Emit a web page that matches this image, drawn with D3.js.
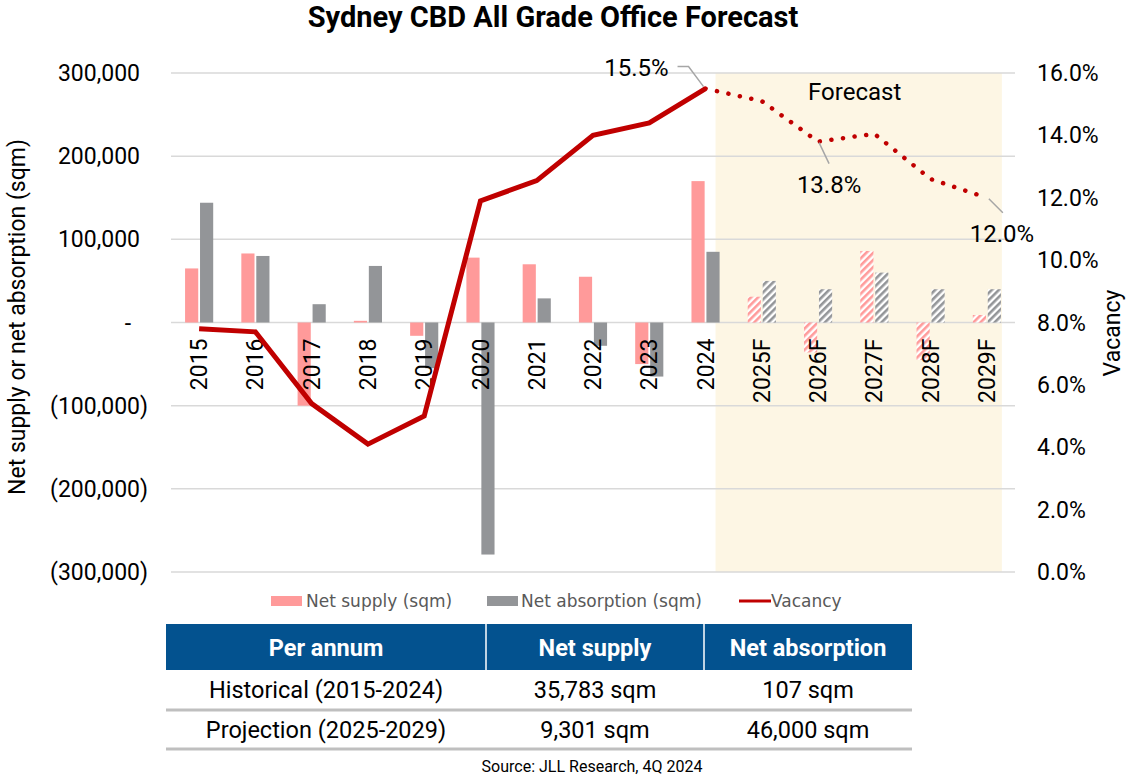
<!DOCTYPE html>
<html>
<head>
<meta charset="utf-8">
<script src="https://cdn.jsdelivr.net/npm/d3@7"></script>
<style>
  body { margin: 0; background: #fff; }
  svg { display: block; font-family: Roboto, sans-serif; }
</style>
</head>
<body>
<svg width="1127" height="779"></svg>
<script>
// data
const years = ["2015", "2016", "2017", "2018", "2019", "2020", "2021", "2022", "2023", "2024",
               "2025F", "2026F", "2027F", "2028F", "2029F"];
const netSupply = [65000, 83000, -100000, 2000, -16000, 78000, 70000, 55000, -50000, 170000,
                   31000, -36000, 86000, -45000, 9000];
const netAbsorption = [144000, 80000, 22000, 68000, -55000, -279000, 29000, -28000, -65000, 85000,
                       50000, 40000, 60000, 40000, 40000];
const vacancy = [7.8, 7.7, 5.4, 4.1, 5.0, 11.9, 12.55, 14.0, 14.4, 15.5,
                 15.1, 13.8, 14.05, 12.6, 12.0];
const leftTicks = [-300000, -200000, -100000, 0, 100000, 200000, 300000];
const rightTicks = [0, 2, 4, 6, 8, 10, 12, 14, 16];
const firstForecast = "2025F";
const tableHeader = ["Per annum", "Net supply", "Net absorption"];
const tableRows = [
  ["Historical (2015-2024)", "35,783 sqm", "107 sqm"],
  ["Projection (2025-2029)", "9,301 sqm", "46,000 sqm"]
];

const svg = d3.select("svg");
const red = "#c00000", pink = "#ff9a9a", grey = "#939598";

// scales
const x = d3.scaleBand().domain(years).range([171, 1015]).paddingInner(0.5).paddingOuter(0.25);
const xSub = d3.scaleBand().domain(["s", "a"]).range([0, x.bandwidth()]).paddingInner(0.12);
const yL = d3.scaleLinear().domain([-300000, 300000]).range([572, 73]);
const yR = d3.scaleLinear().domain([0, 16]).range([572, 73]);
const cx = d => x(d) + x.bandwidth() / 2;
const fIdx = years.indexOf(firstForecast);

// hatch patterns for forecast bars
const defs = svg.append("defs");
[["hatchPink", pink], ["hatchGrey", grey]].forEach(([id, c]) => {
  const p = defs.append("pattern").attr("id", id).attr("patternUnits", "userSpaceOnUse")
    .attr("width", 5).attr("height", 5).attr("patternTransform", "rotate(45)");
  p.append("rect").attr("width", 5).attr("height", 5).attr("fill", "#fff");
  p.append("rect").attr("width", 2.6).attr("height", 5).attr("fill", c);
});

// title
svg.append("text").attr("x", 553).attr("y", 27).attr("text-anchor", "middle")
  .style("font-size", "29px").style("font-weight", "bold").text("Sydney CBD All Grade Office Forecast");

// forecast shading
const shadeX0 = cx(years[fIdx - 1]) + 10, shadeX1 = cx(years[years.length - 1]) + 15;
svg.append("rect").attr("x", shadeX0).attr("y", 73).attr("width", shadeX1 - shadeX0)
  .attr("height", 572 - 73).attr("fill", "#fdf6e4");

// gridlines
svg.append("g").selectAll("line").data(leftTicks).join("line")
  .attr("x1", 171).attr("x2", 1015).attr("y1", d => yL(d)).attr("y2", d => yL(d))
  .attr("stroke", "#d9d9d9").attr("stroke-width", 1.5);

// left axis labels
const fmt = d3.format(",");
svg.append("g").selectAll("text").data(leftTicks).join("text")
  .attr("x", d => d < 0 ? 148 : (d === 0 ? 131 : 140))
  .attr("y", d => yL(d)).attr("dy", "0.35em").attr("text-anchor", "end")
  .style("font-size", "23px")
  .text(d => d === 0 ? "-" : (d < 0 ? "(" + fmt(-d) + ")" : fmt(d)));

svg.append("text").attr("transform", "translate(25,317) rotate(-90)").attr("text-anchor", "middle")
  .style("font-size", "23px").text("Net supply or net absorption (sqm)");

// right axis labels
svg.append("g").selectAll("text").data(rightTicks).join("text")
  .attr("x", 1037).attr("y", d => yR(d)).attr("dy", "0.35em")
  .style("font-size", "23px").text(d => d.toFixed(1) + "%");

svg.append("text").attr("transform", "translate(1120,333) rotate(-90)").attr("text-anchor", "middle")
  .style("font-size", "23px").text("Vacancy");

// bars
const bars = svg.append("g");
const barData = years.map((y, i) => [
  { year: y, key: "s", v: netSupply[i], f: i >= fIdx },
  { year: y, key: "a", v: netAbsorption[i], f: i >= fIdx }
]).flat();
bars.selectAll("rect").data(barData).join("rect")
  .attr("x", d => x(d.year) + xSub(d.key))
  .attr("width", xSub.bandwidth())
  .attr("y", d => yL(Math.max(0, d.v)))
  .attr("height", d => Math.abs(yL(d.v) - yL(0)))
  .attr("fill", d => d.f ? (d.key === "s" ? "url(#hatchPink)" : "url(#hatchGrey)") : (d.key === "s" ? pink : grey));

// x labels
svg.append("g").selectAll("text").data(years).join("text")
  .attr("transform", d => `translate(${cx(d)},${yL(0) + 16}) rotate(-90)`)
  .attr("dy", "0.35em").attr("text-anchor", "end")
  .style("font-size", "23px").text(d => d);

// vacancy line
const line = d3.line().x(d => cx(d.year)).y(d => yR(d.v));
const vac = years.map((y, i) => ({ year: y, v: vacancy[i] }));
svg.append("path").datum(vac.slice(0, fIdx))
  .attr("d", line).attr("fill", "none").attr("stroke", red).attr("stroke-width", 5);
svg.append("path").datum(vac.slice(fIdx - 1))
  .attr("d", line).attr("fill", "none").attr("stroke", red).attr("stroke-width", 4.5)
  .attr("stroke-linecap", "round").attr("stroke-dasharray", "0.1 11.6");

// forecast label
svg.append("text").attr("x", (shadeX0 + shadeX1) / 2 - 4).attr("y", 100).attr("text-anchor", "middle")
  .style("font-size", "24px").text("Forecast");

// data labels with leader lines
const ann = svg.append("g");
function label(idx, path, tx, ty, anchor) {
  const px = cx(years[idx]), py = yR(vacancy[idx]);
  ann.append("path").attr("d", path(px, py)).attr("fill", "none").attr("stroke", "#a6a6a6").attr("stroke-width", 1.5);
  ann.append("text").attr("x", px + tx).attr("y", py + ty).attr("text-anchor", anchor)
    .style("font-size", "24px").text(vacancy[idx].toFixed(1) + "%");
}
label(9, (px, py) => `M${px - 2},${py - 2}L${px - 17},${py - 22}L${px - 28},${py - 22}`, -37, -13, "end");
label(11, (px, py) => `M${px + 1},${py + 1}L${px + 11},${py + 22}`, 11, 51, "middle");
label(14, (px, py) => `M${px + 2},${py + 1}L${px + 16},${py + 15}`, 15, 44, "middle");

// legend
const lg = svg.append("g").style("font-family", "'DejaVu Sans', sans-serif").style("font-size", "17px").attr("fill", "#595959");
lg.append("rect").attr("x", 271).attr("y", 596).attr("width", 31).attr("height", 10).attr("fill", pink);
lg.append("text").attr("x", 306).attr("y", 607).text("Net supply (sqm)");
lg.append("rect").attr("x", 487).attr("y", 596).attr("width", 31).attr("height", 10).attr("fill", grey);
lg.append("text").attr("x", 521).attr("y", 607).text("Net absorption (sqm)");
lg.append("line").attr("x1", 739).attr("x2", 771).attr("y1", 601).attr("y2", 601).attr("stroke", red).attr("stroke-width", 3);
lg.append("text").attr("x", 771).attr("y", 607).text("Vacancy");

// table
const colEdges = [166, 486, 704, 912];
const tbl = svg.append("g");
tbl.append("rect").attr("x", colEdges[0]).attr("y", 624).attr("width", colEdges[3] - colEdges[0])
  .attr("height", 46).attr("fill", "#03528f");
[1, 2].forEach(i => tbl.append("line").attr("x1", colEdges[i]).attr("x2", colEdges[i])
  .attr("y1", 624).attr("y2", 670).attr("stroke", "#fff").attr("stroke-width", 1.5));
tableHeader.forEach((h, i) => tbl.append("text")
  .attr("x", (colEdges[i] + colEdges[i + 1]) / 2).attr("y", 648).attr("dy", "0.35em")
  .attr("text-anchor", "middle").attr("fill", "#fff")
  .style("font-size", "23.5px").style("font-weight", "bold").text(h));
const rowY = [690, 730], sepY = [710, 749];
tableRows.forEach((r, ri) => {
  r.forEach((c, i) => tbl.append("text")
    .attr("x", (colEdges[i] + colEdges[i + 1]) / 2).attr("y", rowY[ri]).attr("dy", "0.35em")
    .attr("text-anchor", "middle").style("font-size", "23.5px").text(c));
  tbl.append("line").attr("x1", colEdges[0]).attr("x2", colEdges[3]).attr("y1", sepY[ri]).attr("y2", sepY[ri])
    .attr("stroke", "#bfbfbf").attr("stroke-width", 3);
});

// source
svg.append("text").attr("x", 592).attr("y", 772).attr("text-anchor", "middle")
  .style("font-size", "16px").text("Source: JLL Research, 4Q 2024");
</script>
</body>
</html>
